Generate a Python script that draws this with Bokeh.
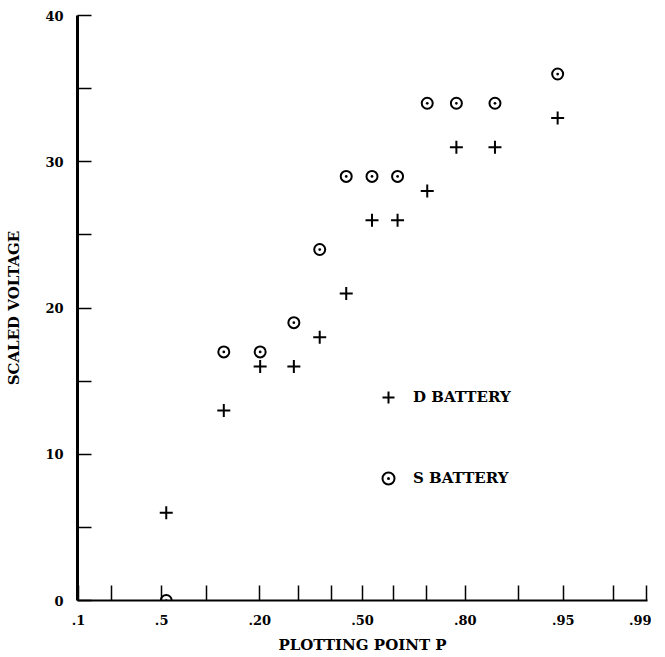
from statistics import NormalDist

from bokeh.embed import file_html
from bokeh.models import (CustomJSTickFormatter, FixedTicker, Legend,
                          LegendItem, Range1d)
from bokeh.plotting import figure
from bokeh.resources import INLINE

# ---- data ----
plotting_point = [0.054, 0.128, 0.201, 0.287, 0.363, 0.447,
                  0.531, 0.613, 0.702, 0.779, 0.861, 0.945]
d_battery = [6, 13, 16, 16, 18, 21, 26, 26, 28, 31, 31, 33]
s_battery = [0, 17, 17, 19, 24, 29, 29, 29, 34, 34, 34, 36]

x_tick_p = [0.01, 0.02, 0.05, 0.10, 0.20, 0.30, 0.40, 0.50,
            0.60, 0.70, 0.80, 0.90, 0.95, 0.98, 0.99]
x_tick_labels = [".1", "", ".5", "", ".20", "", "", ".50",
                 "", "", ".80", "", ".95", "", ".99"]
y_ticks = [0, 5, 10, 15, 20, 25, 30, 35, 40]
y_tick_labels = ["0", "", "10", "", "20", "", "30", "", "40"]

# normal probability scale
nd = NormalDist()
probit = nd.inv_cdf
x_d = [probit(p) for p in plotting_point]
x_tick_z = [probit(p) for p in x_tick_p]
z_edge = 2.334

FONT = "DejaVu Serif"

p = figure(frame_width=570, frame_height=585,
           x_range=Range1d(-z_edge, z_edge), y_range=Range1d(0, 40),
           output_backend="svg", toolbar_location=None,
           min_border_left=77, min_border_top=15, min_border_right=4,
           min_border_bottom=0)
p.outline_line_color = None
p.grid.visible = False
p.background_fill_color = "white"
p.border_fill_color = "white"

# axes
xa = p.xaxis[0]
xa.ticker = FixedTicker(ticks=x_tick_z)
xa.formatter = CustomJSTickFormatter(args=dict(labels=x_tick_labels),
                                     code="return labels[index];")
xa.major_tick_in = 15
xa.major_tick_out = 0
xa.minor_tick_line_color = None
xa.major_tick_line_width = 1.5
xa.axis_line_width = 2
xa.major_label_standoff = 14
xa.major_label_text_font = FONT
xa.major_label_text_font_style = "bold"
xa.major_label_text_font_size = "13px"
xa.major_label_text_color = "black"
xa.axis_label = "PLOTTING POINT P"
xa.axis_label_text_font = FONT
xa.axis_label_text_font_style = "bold"
xa.axis_label_text_font_size = "15px"
xa.axis_label_standoff = 8
xa.axis_label_text_color = "black"

ya = p.yaxis[0]
ya.ticker = FixedTicker(ticks=y_ticks)
ya.formatter = CustomJSTickFormatter(args=dict(labels=y_tick_labels),
                                     code="return labels[index];")
ya.major_tick_in = 14
ya.major_tick_out = 0
ya.minor_tick_line_color = None
ya.major_tick_line_width = 1.5
ya.axis_line_width = 3
ya.major_label_standoff = 14
ya.major_label_text_font = FONT
ya.major_label_text_font_style = "bold"
ya.major_label_text_font_size = "13px"
ya.major_label_text_color = "black"
ya.major_label_orientation = "horizontal"
ya.axis_label = "SCALED VOLTAGE"
ya.axis_label_text_font = FONT
ya.axis_label_text_font_style = "bold"
ya.axis_label_text_font_size = "15px"
ya.axis_label_standoff = 19
ya.axis_label_text_color = "black"

# data
r_d = p.scatter(x_d, d_battery, marker="cross", size=13,
                line_color="black", line_width=2)
r_s = p.scatter(x_d, s_battery, marker="circle_dot", size=11,
                line_color="black", line_width=2, fill_color=None)

legend = Legend(items=[LegendItem(label="D BATTERY", renderers=[r_d]),
                       LegendItem(label="S BATTERY", renderers=[r_s])],
                location=(296, 107), padding=0, margin=0,
                glyph_width=30, glyph_height=30, label_height=30,
                spacing=51, label_standoff=10,
                border_line_color=None, background_fill_alpha=0,
                label_text_font=FONT, label_text_font_style="bold",
                label_text_font_size="15px", label_text_color="black")
p.add_layout(legend, "center")

open("out.html", "w").write(file_html(p, INLINE))
